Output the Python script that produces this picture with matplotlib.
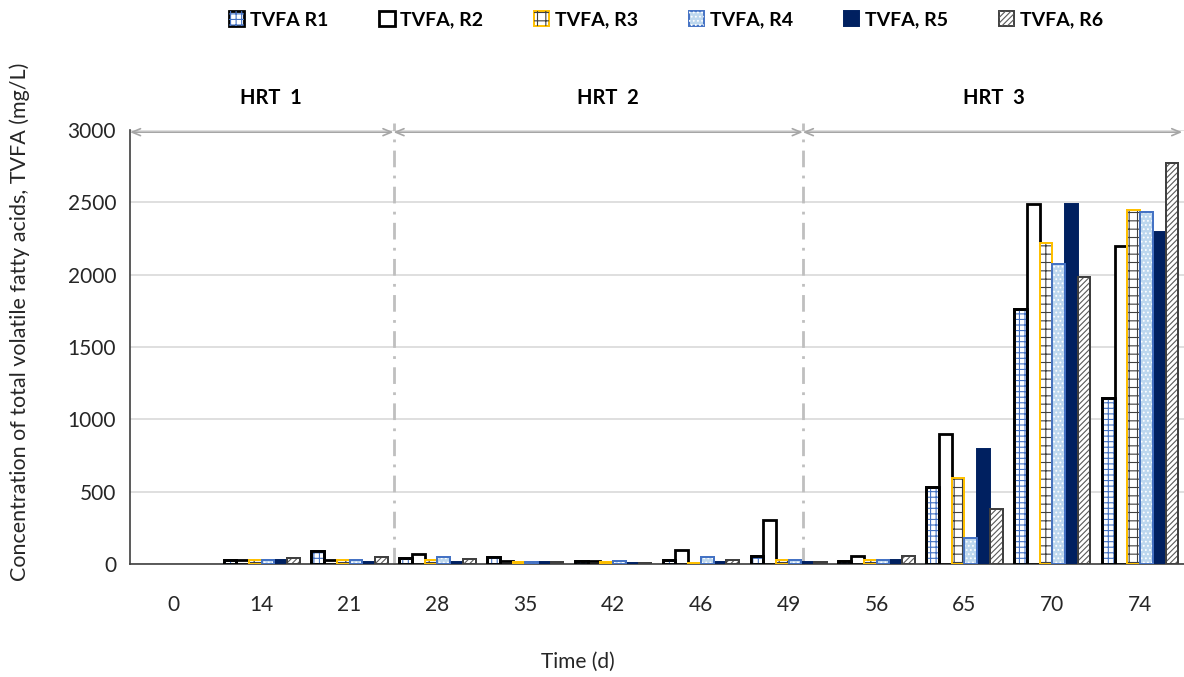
import matplotlib
matplotlib.use("Agg")
import matplotlib.pyplot as plt
from matplotlib.legend_handler import HandlerTuple
import numpy as np

plt.rcParams['font.family'] = ['Lato', 'DejaVu Sans']
plt.rcParams['hatch.linewidth'] = 0.8

dias = ["0", "14", "21", "28", "35", "42", "46", "49", "56", "65", "70", "74"]
series = ["TVFA R1", "TVFA, R2", "TVFA, R3", "TVFA, R4", "TVFA, R5", "TVFA, R6"]

r1 = [0, 28, 92, 40, 45, 20, 25, 57, 20, 530, 1760, 1150]
r2 = [0, 30, 25, 68, 20, 22, 97, 304, 55, 898, 2490, 2200]
r3 = [0, 25, 25, 30, 15, 12, 10, 25, 25, 592, 2220, 2450]
r4 = [0, 25, 30, 50, 15, 20, 45, 30, 25, 182, 2073, 2430]
r5 = [0, 25, 15, 15, 15, 10, 15, 15, 25, 793, 2488, 2295]
r6 = [0, 42, 45, 35, 15, 5, 30, 15, 55, 382, 1983, 2775]
valores = [r1, r2, r3, r4, r5, r6]

# (relleno, borde, grosor de borde, color de trama, trama)
estilos = [
    ("white", "black", 2.0, "#4472C4", "+++"),
    ("white", "black", 2.0, None, None),
    ("white", "#FFC000", 1.4, "#404040", "++"),
    ("#BDD7EE", "#4472C4", 1.4, "white", "...."),
    ("#002060", "#002060", 1.4, None, None),
    ("white", "#404040", 1.4, "#595959", "//////"),
]

fig = plt.figure(figsize=(11.84, 6.77), dpi=100)
ax = fig.add_axes([130 / 1184, 1 - 564 / 677, 1054 / 1184, 434 / 677])

x = np.arange(len(dias))
ancho = 0.145
handles = []
for i, (vals, (fc, ec, lw, hc, hatch)) in enumerate(zip(valores, estilos)):
    vals = np.array(vals, dtype=float)
    pos = x + (i - 2.5) * ancho
    m = vals > 0  # sin barra cuando no hay medida
    ax.bar(pos[m], vals[m], ancho, color=fc, edgecolor=ec, linewidth=lw, zorder=3)
    if hatch:
        ax.bar(pos[m], vals[m], ancho, color="none", edgecolor=hc, hatch=hatch,
               linewidth=0, zorder=4)
        ax.bar(pos[m], vals[m], ancho, color="none", edgecolor=ec, linewidth=lw, zorder=5)
    h = plt.Rectangle((0, 0), 1, 1, facecolor=fc, edgecolor=ec, linewidth=lw)
    if hatch:
        h = (h, plt.Rectangle((0, 0), 1, 1, facecolor="none",
                              edgecolor=hc, hatch=hatch, linewidth=0))
    handles.append(h)

ax.set_xlim(-0.5, 11.5)
ax.set_ylim(0, 3000)
ax.set_yticks(range(0, 3001, 500))
ax.set_xticks(x)
ax.set_xticklabels(dias)
ax.tick_params(length=0, labelsize=15, colors="#262626", pad=22, axis="x")
ax.tick_params(length=0, labelsize=15, colors="#262626", pad=10, axis="y")
ax.grid(axis="y", color="#D9D9D9", linewidth=1.2, zorder=0)
for s in ["top", "right"]:
    ax.spines[s].set_visible(False)
ax.spines["left"].set_color("#404040")
ax.spines["bottom"].set_color("#404040")
ax.spines["left"].set_linewidth(1.2)
ax.spines["bottom"].set_linewidth(1.2)

# divisiones entre periodos de HRT
limites = [-0.5, 2.5, 7.16, 11.48]
for xv in limites[1:3]:
    ax.plot([xv, xv], [0, 3050], color="#BFBFBF", linewidth=2,
            linestyle=(0, (6, 3, 1, 3)), clip_on=False, zorder=2)
for a, b in zip(limites[:-1], limites[1:]):
    ax.annotate("", xy=(a, 2985), xytext=(b, 2985),
                arrowprops=dict(arrowstyle="<->,head_length=0.6,head_width=0.25",
                                color="#A6A6A6", linewidth=1.2,
                                shrinkA=0, shrinkB=0),
                annotation_clip=False)

for xt, txt in [(1.10, "HRT  1"), (4.94, "HRT  2"), (9.34, "HRT  3")]:
    ax.text(xt, 3220, txt, ha="center", va="center", fontsize=14.5,
            fontweight="bold", clip_on=False)

fig.text(20 / 1184, 1 - 322 / 677,
         "Concentration of total volatile fatty acids, TVFA (mg/L)",
         rotation=90, ha="center", va="center", fontsize=15.5, color="#262626")
fig.text(578 / 1184, 1 - 662 / 677, "Time (d)", ha="center", va="center",
         fontsize=15, color="#262626")

fig.legend(handles, series, loc="center", bbox_to_anchor=(666 / 1184, 1 - 20 / 677),
           ncol=6, frameon=False, handlelength=0.8, handleheight=0.8,
           handletextpad=0.3, columnspacing=2.6,
           prop={"weight": "bold", "size": 14},
           handler_map={tuple: HandlerTuple(ndivide=1, pad=0)})

fig.savefig("out.png", dpi=100)
